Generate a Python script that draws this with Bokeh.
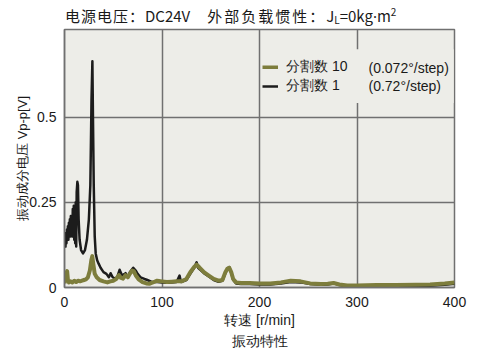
from bokeh.plotting import figure
from bokeh.models import (Range1d, FixedTicker, Label, Legend, LegendItem, BoxAnnotation,
                          Div, Title)
from bokeh.layouts import column
from bokeh.embed import file_html
from bokeh.resources import INLINE

# ---- data ----
speed_div10 = [0, 1, 2, 2.7, 3.5, 4.5, 6, 8, 10, 12, 14, 16, 18, 20, 22, 24, 26, 27.5, 28.5, 29.5,
               31, 33, 36, 40, 44, 47, 50, 53, 55.8, 58, 60, 62.6, 65, 67, 69.5, 71, 73, 76, 80,
               84, 87, 90, 95, 100, 105, 110, 115, 120, 125, 129, 133, 135.5, 138, 143, 148, 153,
               158, 162, 165, 167, 169, 171, 173, 176, 181, 190, 200, 211, 222, 232, 242, 252,
               263, 270, 276, 282, 290, 300, 320, 340, 360, 375, 390, 400]
volt_div10 = [0.012, 0.03, 0.042, 0.048, 0.022, 0.015, 0.018, 0.015, 0.02, 0.016, 0.02, 0.018, 0.02,
              0.022, 0.024, 0.03, 0.05, 0.08, 0.092, 0.07, 0.04, 0.03, 0.022, 0.018, 0.015, 0.018,
              0.02, 0.025, 0.036, 0.028, 0.026, 0.036, 0.03, 0.04, 0.05, 0.048, 0.036, 0.024, 0.016,
              0.012, 0.011, 0.014, 0.02, 0.018, 0.016, 0.017, 0.018, 0.018, 0.025, 0.045, 0.06,
              0.067, 0.06, 0.045, 0.035, 0.025, 0.02, 0.022, 0.045, 0.055, 0.058, 0.045, 0.025,
              0.015, 0.013, 0.013, 0.012, 0.012, 0.015, 0.02, 0.018, 0.012, 0.01, 0.011, 0.013,
              0.009, 0.006, 0.006, 0.007, 0.007, 0.008, 0.009, 0.012, 0.015]

speed_div1 = [0, 0.5, 1, 1.5, 2, 2.5, 3, 3.5, 4, 4.5, 5, 5.5, 6, 6.5, 7, 7.5, 8, 8.5, 9, 9.5, 10,
              10.5, 11, 11.5, 12, 12.5, 13.2, 13.8, 14.5, 15.5, 17, 19, 21, 23, 25, 26.5, 27.7,
              28.6, 29.2, 30, 31, 32, 33.5, 35, 37, 40, 43, 45.5, 47.3, 49, 51.3, 54, 56.5, 59,
              62.6, 65, 67, 70.5, 73, 75, 78, 82, 85, 90, 95, 100, 105, 110, 115, 118, 119.5,
              125, 129, 133, 135.5, 137, 143, 148, 153, 158, 162, 165, 167, 169, 171, 173, 176,
              181, 190, 200, 211, 222, 232, 242, 252, 263, 270, 276, 282, 290, 300, 320, 340,
              360, 375, 390, 400]
volt_div1 = [0.13, 0.15, 0.12, 0.16, 0.13, 0.17, 0.14, 0.18, 0.14, 0.19, 0.15, 0.2, 0.15, 0.21,
             0.16, 0.21, 0.15, 0.23, 0.16, 0.24, 0.14, 0.22, 0.13, 0.25, 0.12, 0.28, 0.31, 0.30,
             0.2, 0.14, 0.11, 0.10, 0.11, 0.14, 0.2, 0.3, 0.55, 0.664, 0.5, 0.3, 0.15, 0.1, 0.08,
             0.07, 0.058, 0.045, 0.04, 0.03, 0.042, 0.032, 0.026, 0.03, 0.052, 0.035, 0.042, 0.03,
             0.045, 0.058, 0.05, 0.04, 0.03, 0.025, 0.022, 0.016, 0.016, 0.015, 0.014, 0.015,
             0.016, 0.035, 0.016, 0.022, 0.04, 0.058, 0.074, 0.058, 0.042, 0.032, 0.022, 0.017,
             0.02, 0.042, 0.055, 0.06, 0.043, 0.022, 0.012, 0.01, 0.01, 0.009, 0.009, 0.012,
             0.016, 0.015, 0.01, 0.008, 0.009, 0.012, 0.007, 0.004, 0.003, 0.003, 0.004, 0.004,
             0.005, 0.008, 0.011]

x_ticks = [0, 100, 200, 300, 400]
y_ticks = [0, 0.25, 0.5]
y_tick_labels = {0: "0", 0.25: "0.25", 0.5: "0.5"}
series_names = ["分割数 10", "分割数 1"]
series_steps = ["(0.072°/step)", "(0.72°/step)"]

OLIVE = "#7d7d3c"
BLACK = "#1c1c1c"
GRID = "#707070"
BG = "#ededE8"
SANS = "Liberation Sans"
TXT = "#1a1a1a"

header = Div(width=504, height=27, margin=0, text=(
    '<div style="padding-left:65px;padding-top:6px;white-space:nowrap;'
    'font-family:\'Noto Sans CJK SC\';font-size:15px;line-height:20px;color:#1a1a1a">'
    '<span style="letter-spacing:1px">电源电压：</span>DC24V'
    '<span style="margin-left:17px;letter-spacing:2px">外部负载惯性：</span>J'
    '<span style="font-size:10px;line-height:10px;vertical-align:-2px">L</span>=0kg'
    '<span style="font-family:\'Noto Sans\'">·</span>m'
    '<span style="font-size:10px;line-height:10px;vertical-align:6px">2</span></div>'))

p = figure(width=504, height=325, output_backend="svg", toolbar_location=None,
           x_range=Range1d(0, 400), y_range=Range1d(0, 0.757), margin=0,
           min_border_left=64, min_border_right=50, min_border_top=2, min_border_bottom=65)
p.background_fill_color = BG
p.border_fill_color = "white"
p.outline_line_color = GRID
p.outline_line_width = 1.5

for ax in (p.xaxis[0], p.yaxis[0]):
    ax.axis_line_color = GRID
    ax.axis_line_width = 1.5
    ax.major_tick_line_color = None
    ax.minor_tick_line_color = None
    ax.major_label_text_font = SANS
    ax.major_label_text_font_size = "14px"
    ax.major_label_text_color = TXT
    ax.axis_label_text_font = SANS
    ax.axis_label_text_font_size = "14px"
    ax.axis_label_text_font_style = "normal"
    ax.axis_label_text_color = TXT

p.yaxis.axis_label_text_font_size = "13px"
p.xaxis.ticker = FixedTicker(ticks=x_ticks)
p.yaxis.ticker = FixedTicker(ticks=y_ticks)
p.yaxis.major_label_overrides = y_tick_labels
p.xaxis.major_label_standoff = 3
p.yaxis.major_label_standoff = 2
p.xaxis.axis_label = "转速 [r/min]"
p.yaxis.axis_label = "振动成分电压 Vp-p[V]"
p.xaxis.axis_label_standoff = 2
p.yaxis.axis_label_standoff = -4

p.xgrid.ticker = FixedTicker(ticks=x_ticks)
p.ygrid.ticker = FixedTicker(ticks=y_ticks)
for g in (p.xgrid[0], p.ygrid[0]):
    g.grid_line_color = GRID
    g.grid_line_width = 1.5

p.add_layout(Title(text="振动特性", align="center", text_font=SANS, text_font_size="14px",
                   text_font_style="normal", text_color=TXT, standoff=0), "below")

# background patch behind the legend (hides the grid lines there)
p.add_layout(BoxAnnotation(left=203.5, right=399.2, bottom=0.541, top=0.699,
                           fill_color=BG, fill_alpha=1, line_color=None, level="underlay"))

r1 = p.line(speed_div1, volt_div1, line_color=BLACK, line_width=2.5, line_join="round")
r10 = p.line(speed_div10, volt_div10, line_color=OLIVE, line_width=4, line_join="round")

legend = Legend(items=[LegendItem(label=series_names[0], renderers=[r10]),
                       LegendItem(label=series_names[1], renderers=[r1])],
                location=(198, 192), background_fill_alpha=0,
                border_line_color=None, label_text_font=SANS, label_text_font_size="14px",
                label_text_color=TXT, glyph_width=16, glyph_height=4,
                label_standoff=8, spacing=1, padding=3, margin=0,
                label_height=16, label_width=60)
p.add_layout(legend)

for txt, yy in zip(series_steps, [220, 202]):
    p.add_layout(Label(x=304, y=yy, x_units="screen", y_units="screen", text=txt,
                       text_font=SANS, text_font_size="14px", text_color=TXT,
                       text_baseline="middle"))

layout = column(header, p, spacing=0)
open("out.html", "w").write(file_html(layout, INLINE))
